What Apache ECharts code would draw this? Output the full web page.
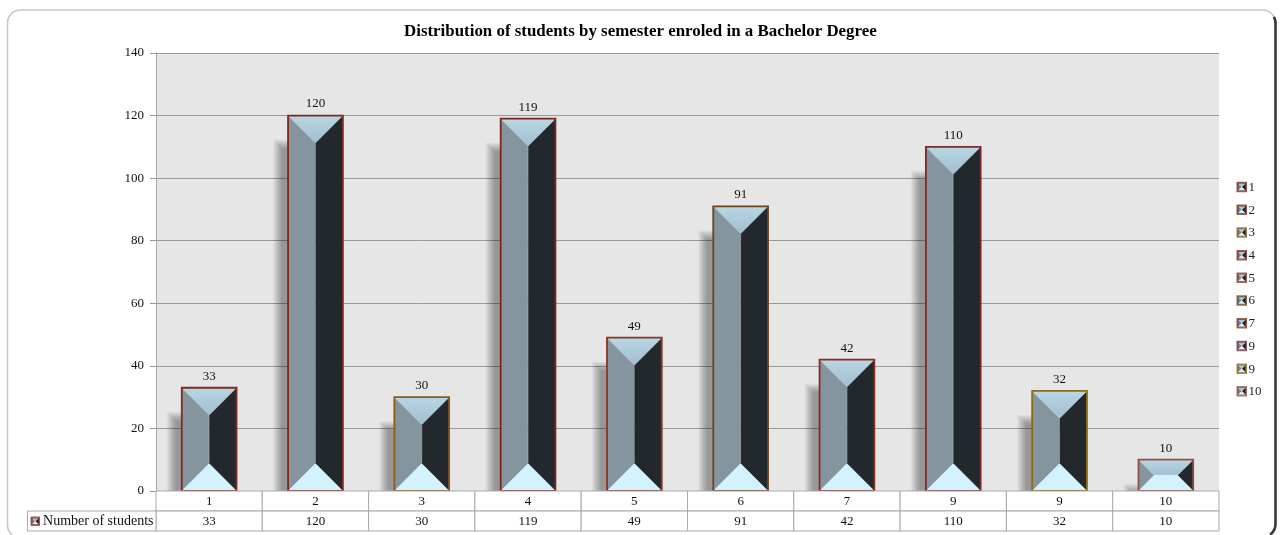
<!DOCTYPE html>
<html>
<head>
<meta charset="utf-8">
<title>Distribution of students</title>
<script src="https://cdn.jsdelivr.net/npm/echarts@6/dist/echarts.min.js"></script>
<style>html,body{margin:0;padding:0;background:#fff}#c{width:1280px;height:535px}</style>
</head>
<body>
<div id="c"></div>
<script>
const titleText = 'Distribution of students by semester enroled in a Bachelor Degree';
const seriesName = 'Number of students';
const semesters = ['1', '2', '3', '4', '5', '6', '7', '9', '9', '10'];
const studentCounts = [33, 120, 30, 119, 49, 91, 42, 110, 32, 10];
const legendNames = ['1', '2', '3', '4', '5', '6', '7', '9', '9', '10'];
const edgeColors = ['#7e2c1c', '#7e281c', '#8c5a1c', '#7e281c', '#8c3424', '#6c4420', '#8a2c1c', '#7e2a2c', '#8e6c14', '#94503e'];

const FONT = '"Liberation Serif", "Times New Roman", serif';
const chart = echarts.init(document.getElementById('c'), null, { renderer: 'canvas' });

// Faces of a bevelled bar; the slant is 45 degrees and is limited by half the bar's height
function bevelFaces(l, t, r, b, bevelMax, colors) {
  const d = Math.min(bevelMax, (r - l) / 2, (b - t) / 2);
  const il = l + d, ir = r - d, it = t + d, ib = b - d;
  return [
    { pts: [[l, t], [il, it], [il, ib], [l, b]], fill: colors.left },
    { pts: [[r, t], [ir, it], [ir, ib], [r, b]], fill: colors.right },
    { pts: [[l, t], [r, t], [ir, it], [il, it]], fill: colors.top },
    { pts: [[l, b], [r, b], [ir, ib], [il, ib]], fill: colors.bottom }
  ].map(f => ({ type: 'polygon', shape: { points: f.pts }, style: { fill: f.fill, stroke: f.fill, lineWidth: 0.5 } }));
}

const faceColors = {
  left: '#84959f',
  right: '#22282b',
  top: { type: 'linear', x: 0, y: 0, x2: 0, y2: 1, colorStops: [{ offset: 0, color: '#b9d6e4' }, { offset: 1, color: '#a3bfd0' }] },
  bottom: '#d2f2ff'
};

// Soft cast shadow built from nested translucent rectangles, so its edge fades out
function softShadow(l, t, r, b) {
  const layers = [];
  for (let k = 0; k < 12; k++) {
    const top = t + k * 0.8;
    if (top >= b) break;
    layers.push({
      type: 'rect',
      shape: { x: l + k * 0.8, y: top, width: r - l - k * 0.8, height: b - top },
      style: { fill: 'rgba(0,0,0,0.03)' }
    });
  }
  return layers;
}

function renderBar(params, api) {
  const i = api.value(0);
  const v = api.value(1);
  const top = api.coord([i, v]);
  const base = api.coord([i, 0]);
  const w = api.size([1, 0])[0] * 0.515;
  const l = top[0] - w / 2, r = top[0] + w / 2;
  const children = softShadow(l - 15, top[1] + 24, l + 2, base[1]);
  children.push(...bevelFaces(l, top[1], r, base[1], 27, faceColors));
  children.push({
    type: 'rect',
    shape: { x: l, y: top[1], width: w, height: base[1] - top[1] },
    style: { fill: 'none', stroke: edgeColors[i], lineWidth: 1.8 }
  });
  children.push({
    type: 'text',
    style: { x: top[0], y: top[1] - 5, text: String(v), font: '13px ' + FONT, fill: '#111', align: 'center', verticalAlign: 'bottom' }
  });
  return { type: 'group', children };
}

// Data table under the plot: one row of semesters and one row of counts
function renderCell(params, api) {
  const i = api.value(0);
  const row = api.value(1);
  const c = api.coord([i, row]);
  const s = api.size([1, 1]);
  const text = row === 0 ? semesters[i] : String(studentCounts[i]);
  return {
    type: 'group',
    children: [
      { type: 'rect', shape: { x: c[0] - s[0] / 2, y: c[1] - s[1] / 2, width: s[0], height: s[1] },
        style: { fill: '#fff', stroke: '#a9a9a9', lineWidth: 1 } },
      { type: 'text', style: { x: c[0], y: c[1] + 1, text, font: '13px ' + FONT, fill: '#111', align: 'center', verticalAlign: 'middle' } }
    ]
  };
}

function miniIcon(x, y, size, edge) {
  const kids = bevelFaces(x, y, x + size, y + size, size / 2, { left: '#6f8590', right: '#1c2123', top: '#a9c6d6', bottom: '#d2f2ff' });
  kids.push({ type: 'rect', shape: { x, y, width: size, height: size }, style: { fill: 'none', stroke: edge, lineWidth: 2, opacity: 0.75 } });
  return kids.map(k => ({ ...k, z: 7, silent: true }));
}

const legendItems = legendNames.flatMap((name, i) => {
  const y = 187 + i * 22.7;
  return [
    ...miniIcon(1237.5, y - 4.2, 8.5, edgeColors[i]),
    { type: 'text', z: 7, silent: true, style: { x: 1248.5, y: y + 0.5, text: name, font: '13px ' + FONT, fill: '#222', verticalAlign: 'middle' } }
  ];
});

chart.setOption({
  animation: false,
  backgroundColor: '#fff',
  title: {
    text: titleText, left: 399, top: 18,
    textStyle: { fontFamily: FONT, fontSize: 16.9, fontWeight: 'bold', color: '#000' }
  },
  grid: [
    { left: 156, top: 53, width: 1063, height: 438, show: true, backgroundColor: '#e6e6e6', borderWidth: 0 },
    { left: 156, top: 491, width: 1063, height: 40, show: false }
  ],
  xAxis: [
    { gridIndex: 0, type: 'category', data: semesters, axisLabel: { show: false }, axisTick: { show: false },
      axisLine: { lineStyle: { color: '#a9a9a9' } } },
    { gridIndex: 1, type: 'category', data: semesters, axisLabel: { show: false }, axisTick: { show: false }, axisLine: { show: false } }
  ],
  yAxis: [
    { gridIndex: 0, type: 'value', min: 0, max: 140, interval: 20,
      axisLine: { show: true, lineStyle: { color: '#a9a9a9' } },
      axisTick: { show: true, length: 6, lineStyle: { color: '#999' } },
      axisLabel: { margin: 12, fontFamily: FONT, fontSize: 13, color: '#111', padding: [2, 0, 0, 0] },
      splitLine: { lineStyle: { color: '#999', width: 1 } } },
    { gridIndex: 1, type: 'category', inverse: true, data: ['semester', 'count'], axisLabel: { show: false }, axisTick: { show: false }, axisLine: { show: false } }
  ],
  series: [
    { type: 'custom', name: seriesName, xAxisIndex: 0, yAxisIndex: 0, z: 3, clip: false,
      encode: { x: 0, y: 1 }, renderItem: renderBar,
      data: studentCounts.map((v, i) => [i, v]) },
    { type: 'custom', xAxisIndex: 1, yAxisIndex: 1, z: 5, clip: false,
      encode: { x: 0, y: 1 }, renderItem: renderCell,
      data: semesters.flatMap((s, i) => [[i, 0], [i, 1]]) }
  ],
  graphic: [
    // Card frame: light on the top and left, heavy on the right
    { type: 'rect', z: 1, silent: true, shape: { x: 7.5, y: 10, width: 1268, height: 528, r: 13 },
      style: { fill: 'none', stroke: '#c8c8c8', lineWidth: 1.6 } },
    { type: 'line', z: 1, silent: true, shape: { x1: 1275.5, y1: 22, x2: 1275.5, y2: 524 },
      style: { stroke: '#3a3a3a', lineWidth: 2.6 } },
    { type: 'arc', z: 1, silent: true, shape: { cx: 1262.5, cy: 524, r: 13, startAngle: 0, endAngle: 0.95 },
      style: { fill: 'none', stroke: '#3a3a3a', lineWidth: 2.6 } },
    { type: 'arc', z: 1, silent: true, shape: { cx: 1262.5, cy: 23, r: 13, startAngle: -0.5, endAngle: 0 },
      style: { fill: 'none', stroke: '#3a3a3a', lineWidth: 2.6 } },
    // Row header of the data table
    { type: 'rect', z: 6, silent: true, shape: { x: 27.5, y: 511, width: 128.5, height: 20 },
      style: { fill: '#fff', stroke: '#a9a9a9', lineWidth: 1 } },
    ...miniIcon(31.5, 517.5, 7.5, '#8e3020'),
    { type: 'text', z: 7, silent: true, style: { x: 153.5, y: 521, text: seriesName, font: '14px ' + FONT, fill: '#111', align: 'right', verticalAlign: 'middle' } },
    ...legendItems
  ]
});
</script>
</body>
</html>
